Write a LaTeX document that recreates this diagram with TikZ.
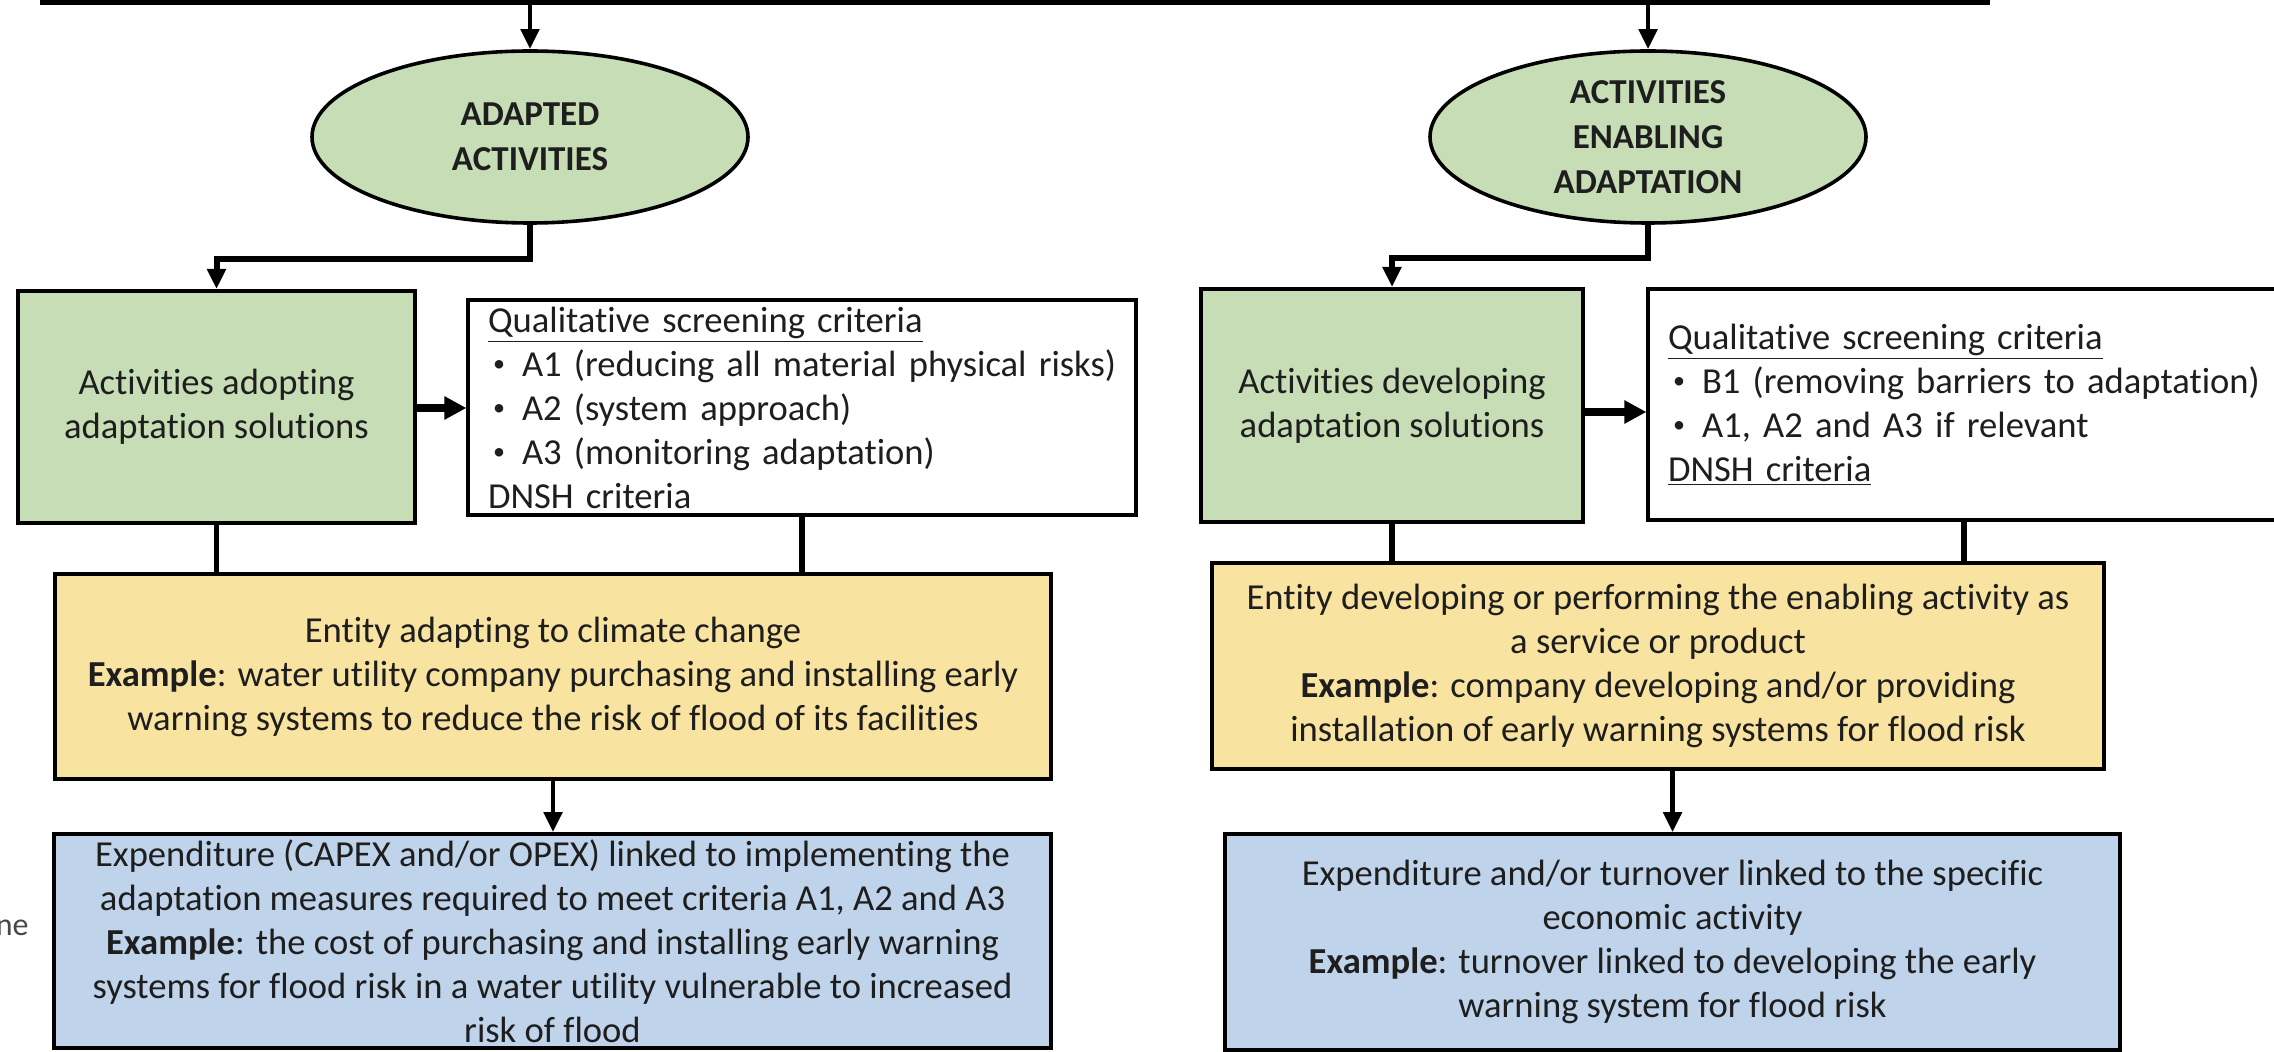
\documentclass[tikz,border=0pt]{standalone}
\usepackage{fontspec}
\setmainfont{Carlito}[Ligatures={NoCommon}]
\usetikzlibrary{shapes.geometric,arrows.meta,calc}

\definecolor{boxgreen}{HTML}{C7DDB5}
\definecolor{boxyellow}{HTML}{F9E3A0}
\definecolor{boxblue}{HTML}{BFD3EA}
\definecolor{inktext}{HTML}{1E1E1E}

% bullet line inside a criteria box
\newcommand\critem[1]{\mbox{\makebox[17pt][l]{\hspace{2.5pt}\raisebox{0.12em}{\fontsize{12}{12}\selectfont\textbullet}}#1}}

\begin{document}
\begin{tikzpicture}[x=0.5pt,y=-0.5pt,
  every node/.style={text=inktext, font=\fontsize{18.3}{22}\selectfont},
  ovalbox/.style={ellipse, draw, line width=1.8pt, fill=boxgreen, inner sep=0pt,
    minimum width=218pt, minimum height=86pt, align=center,
    font=\fontsize{17.5}{22.5}\selectfont\bfseries},
  greenbox/.style={draw, line width=2pt, fill=boxgreen, inner sep=0pt, align=center},
  critbox/.style={draw, line width=1.6pt, fill=white, inner xsep=10pt, inner ysep=0pt, align=left},
  yellowbox/.style={draw, line width=1.8pt, fill=boxyellow, inner sep=0pt, align=center},
  bluebox/.style={draw, line width=1.8pt, fill=boxblue, inner sep=0pt, align=center},
  arr/.style={line width=2.4pt, -{Triangle[length=10pt,width=9pt]}},
  elbow/.style={line width=3pt, -{Triangle[length=10pt,width=9pt]}},
  fatarr/.style={line width=4pt, -{Triangle[length=11pt,width=11pt]}},
  link/.style={line width=2.6pt}]

\useasboundingbox (0,0) rectangle (2274,1052);
\clip (0,0) rectangle (2274,1052);

% frame closing above the picture
\node[draw, line width=2.6pt, minimum width=972pt, minimum height=100pt, inner sep=0pt]
  (topbox) at (1015,-98) {};

% category ovals
\node[ovalbox] (la) at (530,137) {ADAPTED\\ACTIVITIES};
\node[ovalbox] (ra) at (1648,137) {ACTIVITIES\\ENABLING\\ADAPTATION};

% activity boxes
\node[greenbox, minimum width=198.5pt, minimum height=116pt] (lg) at (216.5,407)
  {Activities adopting\\adaptation solutions};
\node[greenbox, minimum width=191pt, minimum height=116.5pt] (rg) at (1392,405.5)
  {Activities developing\\adaptation solutions};

% screening criteria boxes
\node[critbox, text width=314pt, minimum height=107.5pt] (lq) at (802,407.5)
  {\underline{Qualitative screening criteria}\\
   \critem{A1 (reducing all material physical risks)}\\
   \critem{A2 (system approach)}\\
   \critem{A3 (monitoring adaptation)}\\
   DNSH criteria};
\node[critbox, text width=296pt, minimum height=115.5pt] (rq) at (1964,404.5)
  {\underline{Qualitative screening criteria}\\
   \critem{B1 (removing barriers to adaptation)}\\
   \critem{A1, A2 and A3 if relevant}\\
   \underline{DNSH criteria}};

% entity boxes
\node[yellowbox, minimum width=498pt, minimum height=102.5pt] (ly) at (553,676.5)
  {Entity adapting to climate change\\
   \textbf{Example}: water utility company purchasing and installing early\\
   warning systems to reduce the risk of flood of its facilities};
\node[yellowbox, minimum width=446pt, minimum height=103pt] (ry) at (1658,666)
  {Entity developing or performing the enabling activity as\\
   a service or product\\
   \textbf{Example}: company developing and/or providing\\
   installation of early warning systems for flood risk};

% expenditure boxes
\node[bluebox, minimum width=498.5pt, minimum height=107pt] (lb) at (552.5,941)
  {Expenditure (CAPEX and/or OPEX) linked to implementing the\\
   adaptation measures required to meet criteria A1, A2 and A3\\
   \textbf{Example}: the cost of purchasing and installing early warning\\
   systems for flood risk in a water utility vulnerable to increased\\
   risk of flood};
\node[bluebox, minimum width=447.5pt, minimum height=108pt] (rb) at (1672.5,942)
  {Expenditure and/or turnover linked to the specific\\
   economic activity\\
   \textbf{Example}: turnover linked to developing the early\\
   warning system for flood risk};

% side text running off the left edge
\node[anchor=east, inner sep=0pt, text=black!72, font=\fontsize{16}{18}\selectfont]
  (side) at (29,928) {ne};

% connectors
\draw[arr] (la |- topbox.south) -- (la.north);
\draw[arr] (ra |- topbox.south) -- (ra.north);
\draw[elbow] (la.south) -- ++(0,34) -| (lg.north);
\draw[elbow] (ra.south) -- ++(0,33) -| (rg.north);
\draw[fatarr] (lg.east |- 0,408) -- (lq.west |- 0,408);
\draw[fatarr] (rg.east |- 0,412) -- (rq.west |- 0,412);
\draw[link] (lg.south) -- (lg.south |- ly.north);
\draw[link] (lq.south) -- (lq.south |- ly.north);
\draw[link] (rg.south) -- (rg.south |- ry.north);
\draw[link] (rq.south) -- (rq.south |- ry.north);
\draw[arr] (ly.south) -- (ly.south |- lb.north);
\draw[arr] (rb.north |- ry.south) -- (rb.north);
\end{tikzpicture}
\end{document}
